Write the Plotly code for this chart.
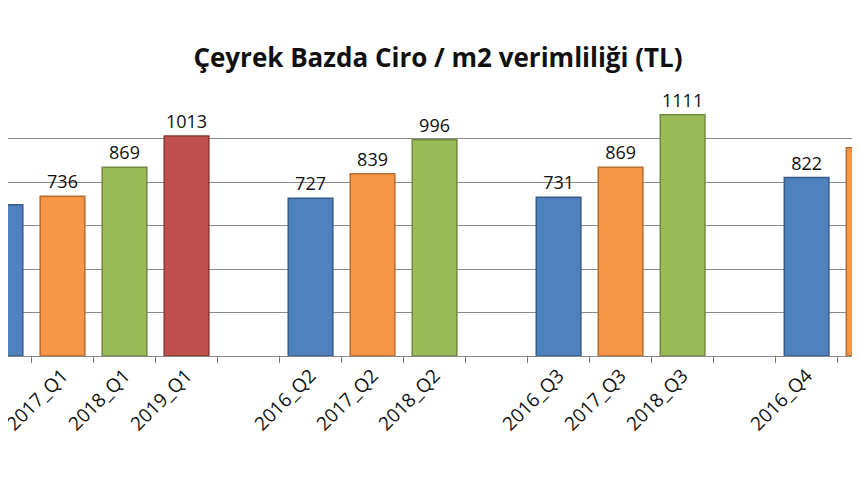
import plotly.graph_objects as go

categories = ["2016_Q1","2017_Q1","2018_Q1","2019_Q1"," ",
              "2016_Q2","2017_Q2","2018_Q2","  ",
              "2016_Q3","2017_Q3","2018_Q3","   ",
              "2016_Q4","2017_Q4","2018_Q4"]
values = [696, 736, 869, 1013, None,
          727, 839, 996, None,
          731, 869, 1111, None,
          822, 959, 1150]
year_colors = {"2016": "#4F81BD", "2017": "#F79646", "2018": "#9BBB59", "2019": "#C0504D"}
line_colors = {"2016": "#385D8A", "2017": "#B66D31", "2018": "#71893F", "2019": "#8C3836"}

cols = [year_colors.get(c[:4], "#fff") for c in categories]
lcols = [line_colors.get(c[:4], "#fff") for c in categories]
texts = [str(v) if v is not None else "" for v in values]

fig = go.Figure(go.Bar(
    x=categories, y=values, text=texts, textposition="outside",
    textfont=dict(size=18, color="#111", family="Open Sans"),
    marker=dict(color=cols, line=dict(color=lcols, width=1.5)),
    width=0.72, cliponaxis=False,
))
fig.update_layout(
    width=860, height=480, plot_bgcolor="white", paper_bgcolor="white",
    margin=dict(l=0, r=0, t=87, b=132, autoexpand=False), showlegend=False,
    title=dict(text="<b>Çeyrek Bazda Ciro / m2 verimliliği (TL)</b>", x=0.5, y=0.915,
               xanchor="center", automargin=False,
               font=dict(size=26, color="#111", family="Open Sans")),
    xaxis=dict(type="category", range=[0.121, 13.99], tickson="boundaries",
               ticks="outside", ticklen=6, tickcolor="#777", showline=True,
               linecolor="#888", tickangle=-45, automargin=False,
               tickfont=dict(size=19, color="#111", family="Open Sans")),
    yaxis=dict(range=[0, 1202], tickvals=[200, 400, 600, 800, 1000, 1200],
               showgrid=True, gridcolor="#8a8a8a", automargin=False,
               gridwidth=1.3, showticklabels=False, zeroline=False),
    shapes=[dict(type="line", xref="paper", yref="paper", x0=0, x1=1,
                 y0=-130/261, y1=-130/261, line=dict(color="#999", width=3))],
)
fig.write_html("out.html")
